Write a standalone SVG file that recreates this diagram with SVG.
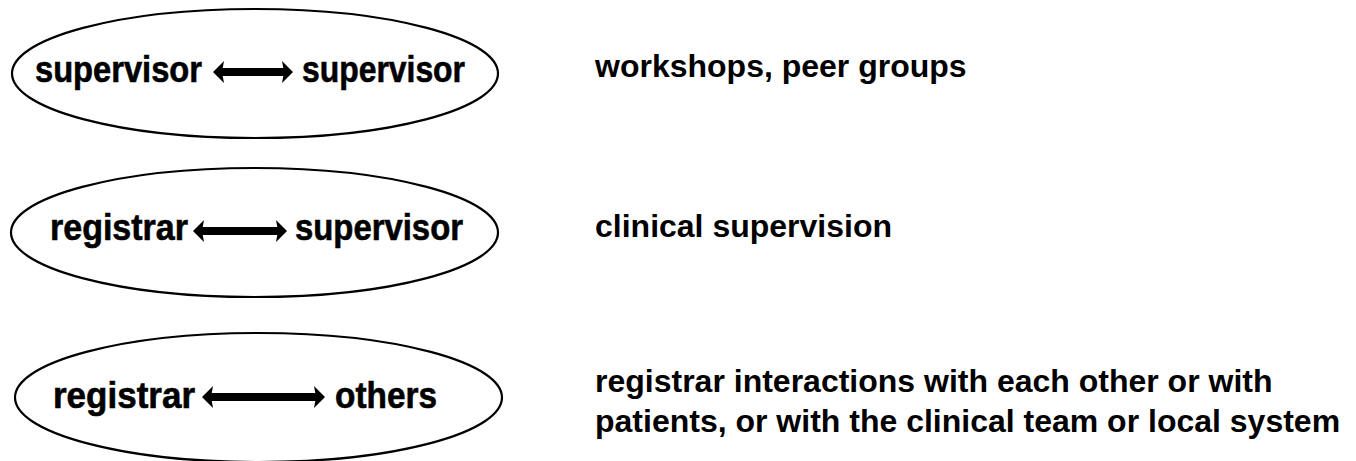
<svg xmlns="http://www.w3.org/2000/svg" width="1356" height="461" viewBox="0 0 1356 461">
  <style>
    .oval { fill: #ffffff; stroke: #000000; stroke-width: 2.2; }
    .tag { font-family: "Liberation Sans", Arial, sans-serif; font-weight: bold; font-size: 36px; fill: #000000; stroke: #000000; stroke-width: 0.6; }
    .note { font-family: "Liberation Sans", Arial, sans-serif; font-weight: bold; font-size: 32px; fill: #000000; }
    .link { stroke: #000000; stroke-width: 8; fill: none; marker-start: url(#head); marker-end: url(#head); }
  </style>
  <defs>
    <marker id="head" markerUnits="userSpaceOnUse" markerWidth="11" markerHeight="22" viewBox="0 0 11 22" refX="2" refY="11" orient="auto-start-reverse">
      <path d="M0,0 L11,11 L0,22 L2,11 Z" fill="#000000"/>
    </marker>
  </defs>
  <rect width="1356" height="461" fill="#ffffff"/>

  <!-- peer level: supervisor with supervisor -->
  <g id="node-supervisor-supervisor">
    <ellipse class="oval" cx="255" cy="73.5" rx="243" ry="64.5"/>
    <text class="tag" x="35" y="82" textLength="167" lengthAdjust="spacingAndGlyphs">supervisor</text>
    <text class="tag" x="302" y="82" textLength="163" lengthAdjust="spacingAndGlyphs">supervisor</text>
  </g>

  <!-- registrar with supervisor -->
  <g id="node-registrar-supervisor">
    <ellipse class="oval" cx="254.5" cy="232.5" rx="243.5" ry="64.5"/>
    <text class="tag" x="50" y="240" textLength="138" lengthAdjust="spacingAndGlyphs">registrar</text>
    <text class="tag" x="295" y="240" textLength="168" lengthAdjust="spacingAndGlyphs">supervisor</text>
  </g>

  <!-- registrar with others -->
  <g id="node-registrar-others">
    <ellipse class="oval" cx="258.5" cy="397.5" rx="243.5" ry="64.5"/>
    <text class="tag" x="53" y="408" textLength="142" lengthAdjust="spacingAndGlyphs">registrar</text>
    <text class="tag" x="335" y="408" textLength="102" lengthAdjust="spacingAndGlyphs">others</text>
  </g>

  <!-- two-way arrows between the parties -->
  <g id="connectors">
    <line class="link" x1="222" y1="72" x2="284" y2="72"/>
    <line class="link" x1="202" y1="231" x2="278" y2="231"/>
    <line class="link" x1="211" y1="397" x2="316" y2="397"/>
  </g>

  <!-- descriptions -->
  <g id="notes">
    <text class="note" x="595" y="77">workshops, peer groups</text>
    <text class="note" x="595" y="237">clinical supervision</text>
    <text class="note" x="595" y="392">registrar interactions with each other or with</text>
    <text class="note" x="595" y="432">patients, or with the clinical team or local system</text>
  </g>
</svg>
